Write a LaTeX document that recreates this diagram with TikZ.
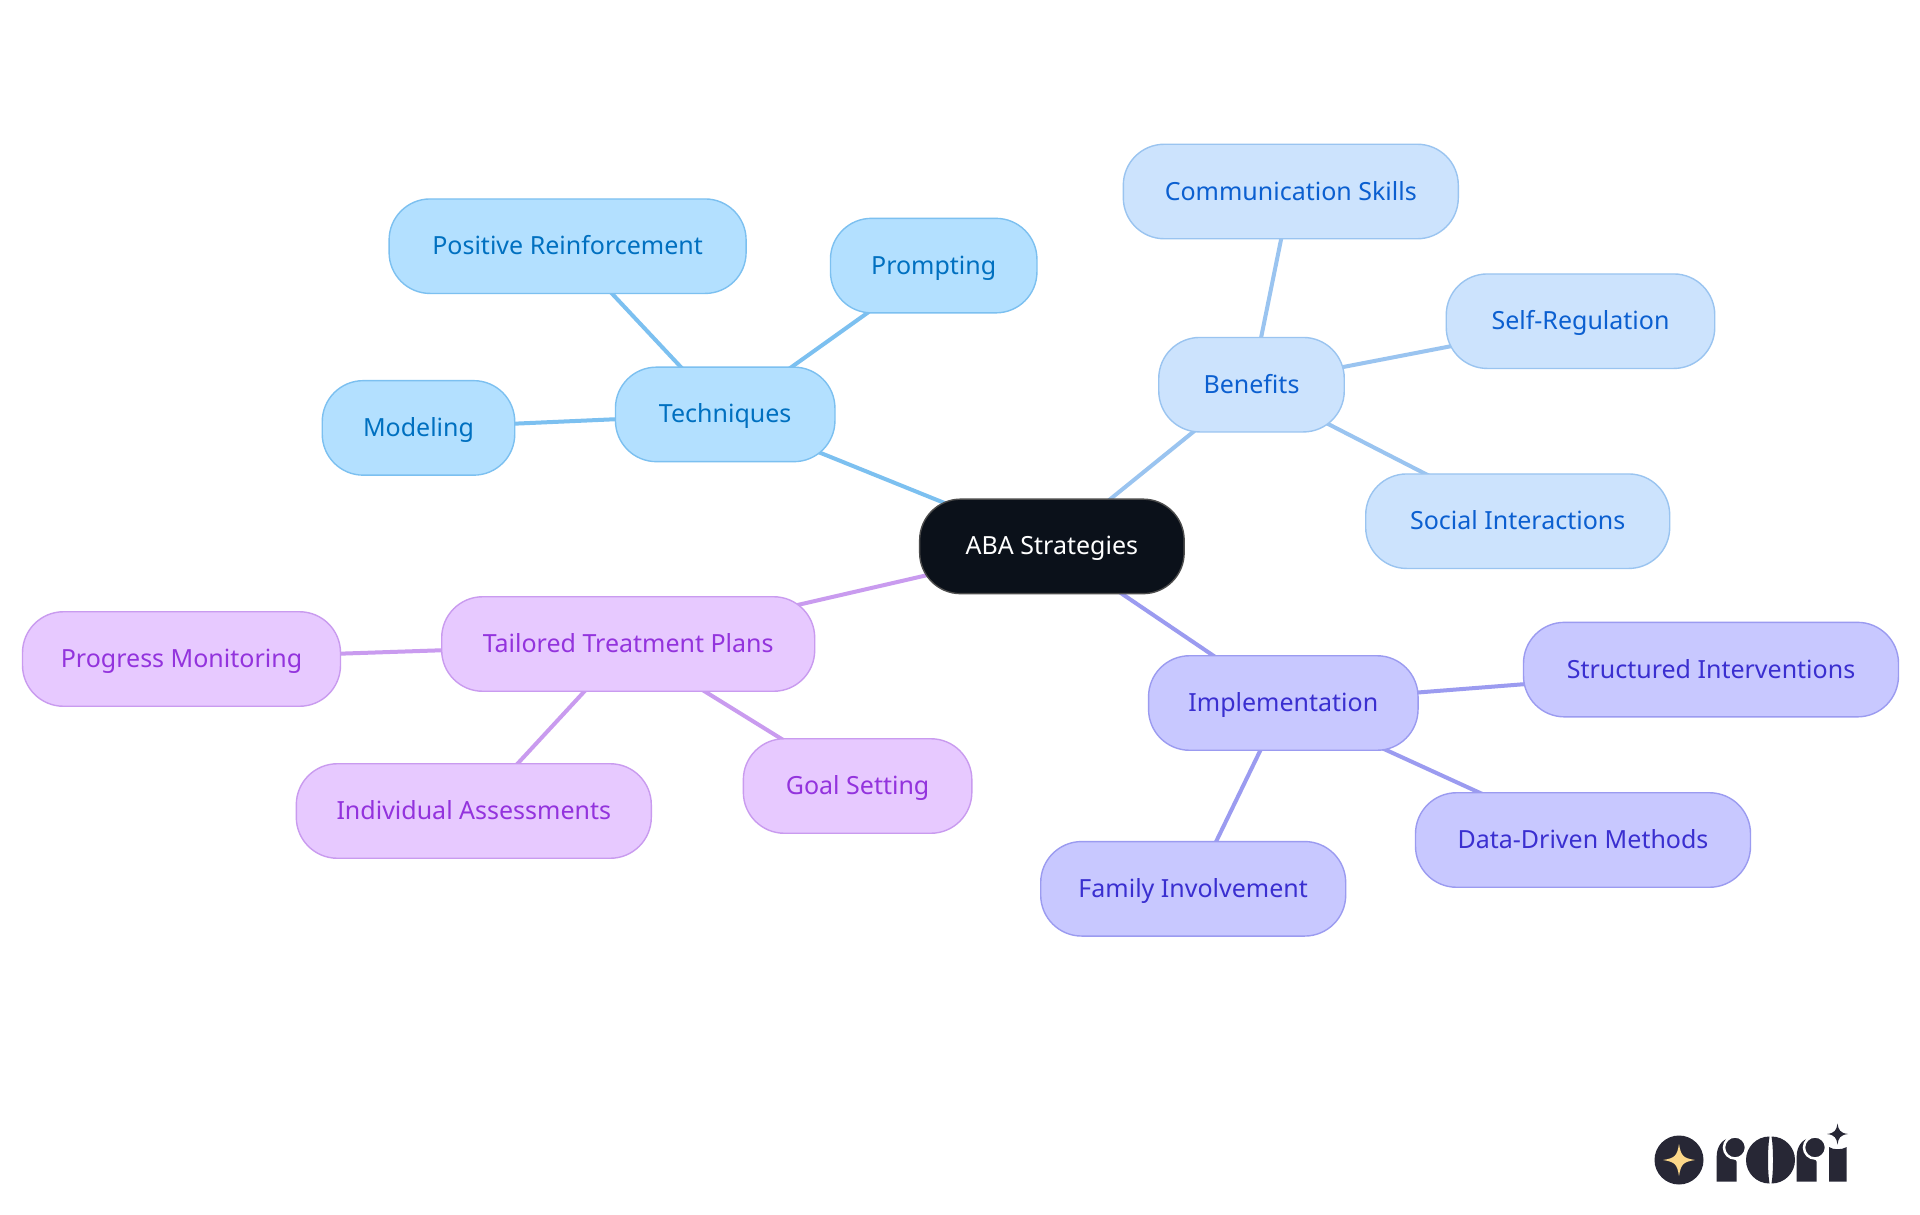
\documentclass[tikz,border=0pt]{standalone}
\usepackage{fontspec}
\setmainfont{Noto Sans}
\usetikzlibrary{backgrounds}
\definecolor{tF}{HTML}{B3E0FF}\definecolor{tE}{HTML}{7CC0F0}\definecolor{tT}{HTML}{0070C0}
\definecolor{bF}{HTML}{CCE3FD}\definecolor{bE}{HTML}{9AC4F0}\definecolor{bT}{HTML}{0B5FD0}
\definecolor{iF}{HTML}{C8C8FF}\definecolor{iE}{HTML}{9B9BF0}\definecolor{iT}{HTML}{3A2FD0}
\definecolor{pF}{HTML}{E7C9FF}\definecolor{pE}{HTML}{C99BEF}\definecolor{pT}{HTML}{9333DD}
\definecolor{rootF}{HTML}{0B111A}\definecolor{logoD}{HTML}{272735}\definecolor{logoY}{HTML}{FBD789}
\tikzset{
 x=1pt,y=-1pt,
 pill/.style={rounded corners=41pt,line width=1.4pt,inner sep=0pt,minimum height=94.5pt,text height=21pt,text depth=4pt,font=\fontsize{25}{30}\selectfont,anchor=center},
 tbox/.style={pill,fill=tF,draw=tE,text=tT},
 bbox/.style={pill,fill=bF,draw=bE,text=bT},
 ibox/.style={pill,fill=iF,draw=iE,text=iT},
 pbox/.style={pill,fill=pF,draw=pE,text=pT},
 rootbox/.style={pill,fill=rootF,draw=black!70,text=white},
 tl/.style={draw=tE,line width=4pt},
 bl/.style={draw=bE,line width=4pt},
 il/.style={draw=iE,line width=4pt},
 pl/.style={draw=pE,line width=4pt},
 logodot/.style={fill=logoD,draw=white,line width=2.5pt},
}
\begin{document}
\begin{tikzpicture}
\useasboundingbox (0,0) rectangle (1920,1215);
\node[rootbox,minimum width=264.5pt] (root) at (1051.9,546.4) {ABA Strategies};
\node[tbox,minimum width=219.5pt] (tech) at (725.2,414.4) {Techniques};
\node[tbox,minimum width=357pt] (pos) at (567.6,246.2) {Positive Reinforcement};
\node[tbox,minimum width=206.5pt] (prompt) at (933.7,265.6) {Prompting};
\node[tbox,minimum width=192.5pt] (model) at (418.5,427.9) {Modeling};
\node[bbox,minimum width=185.5pt] (ben) at (1251.5,384.7) {Benefits};
\node[bbox,minimum width=335pt] (comm) at (1290.8,191.5) {Communication Skills};
\node[bbox,minimum width=268.5pt] (self) at (1580.5,321.2) {Self-Regulation};
\node[bbox,minimum width=304pt] (social) at (1517.7,521.2) {Social Interactions};
\node[ibox,minimum width=269.5pt] (impl) at (1283.3,703) {Implementation};
\node[ibox,minimum width=375pt] (struct) at (1711,669.6) {Structured Interventions};
\node[ibox,minimum width=335pt] (data) at (1583,840) {Data-Driven Methods};
\node[ibox,minimum width=305pt] (family) at (1193.2,888.8) {Family Involvement};
\node[pbox,minimum width=373pt] (tail) at (628.2,644) {Tailored Treatment Plans};
\node[pbox,minimum width=318pt] (prog) at (181.5,659) {Progress Monitoring};
\node[pbox,minimum width=355pt] (ind) at (473.8,811) {Individual Assessments};
\node[pbox,minimum width=228.5pt] (goal) at (857.6,786) {Goal Setting};
\begin{scope}[on background layer]
\fill[white] (0,0) rectangle (1920,1215);
\draw[tl] (root.center)--(tech.center);
\draw[tl] (tech.center)--(pos.center);
\draw[tl] (tech.center)--(prompt.center);
\draw[tl] (tech.center)--(model.center);
\draw[bl] (root.center)--(ben.center);
\draw[bl] (ben.center)--(comm.center);
\draw[bl] (ben.center)--(self.center);
\draw[bl] (ben.center)--(social.center);
\draw[il] (root.center)--(impl.center);
\draw[il] (impl.center)--(struct.center);
\draw[il] (impl.center)--(data.center);
\draw[il] (impl.center)--(family.center);
\draw[pl] (root.center)--(tail.center);
\draw[pl] (tail.center)--(prog.center);
\draw[pl] (tail.center)--(ind.center);
\draw[pl] (tail.center)--(goal.center);
\end{scope}
% logo
\fill[logoD] (1679,1160) circle (24.5);
\fill[logoY] (1679,1144) .. controls (1681,1156) and (1683,1158) .. (1695,1160) .. controls (1683,1162) and (1681,1164) .. (1679,1176) .. controls (1677,1164) and (1675,1162) .. (1663,1160) .. controls (1675,1158) and (1677,1156) .. (1679,1144) -- cycle;
\fill[logoD] (1736.7,1181.7) -- (1716.7,1181.7) -- (1716.7,1156) .. controls (1716.7,1147) and (1722,1139) .. (1730,1138) .. controls (1724,1144) and (1724,1152) .. (1729,1156) .. controls (1732,1158) and (1736.7,1160) .. (1736.7,1162) -- cycle;
\path[logodot] (1735,1147.5) circle (11);
\fill[logoD] (1769.5,1136.5) arc (-90:-270:23.5) .. controls (1767.5,1172) and (1767.5,1148) .. (1769.5,1136.5) -- cycle;
\fill[logoD] (1771.5,1136.5) arc (-90:90:23.5) .. controls (1773.5,1172) and (1773.5,1148) .. (1771.5,1136.5) -- cycle;
\fill[logoD] (1816.7,1181.7) -- (1796.7,1181.7) -- (1796.7,1156) .. controls (1796.7,1147) and (1802,1139) .. (1810,1138) .. controls (1804,1144) and (1804,1152) .. (1809,1156) .. controls (1812,1158) and (1816.7,1160) .. (1816.7,1162) -- cycle;
\path[logodot] (1815,1147.5) circle (11);
\fill[logoD] (1829,1181.7) -- (1829,1147) .. controls (1833,1150) and (1842,1150) .. (1846.7,1147) -- (1846.7,1181.7) -- cycle;
\fill[logoD] (1837.5,1123.5) .. controls (1838.5,1130) and (1840,1133) .. (1848,1134) .. controls (1840,1135) and (1838.5,1138) .. (1837.5,1144.5) .. controls (1836.5,1138) and (1835,1135) .. (1827,1134) .. controls (1835,1133) and (1836.5,1130) .. (1837.5,1123.5) -- cycle;
\end{tikzpicture}
\end{document}
